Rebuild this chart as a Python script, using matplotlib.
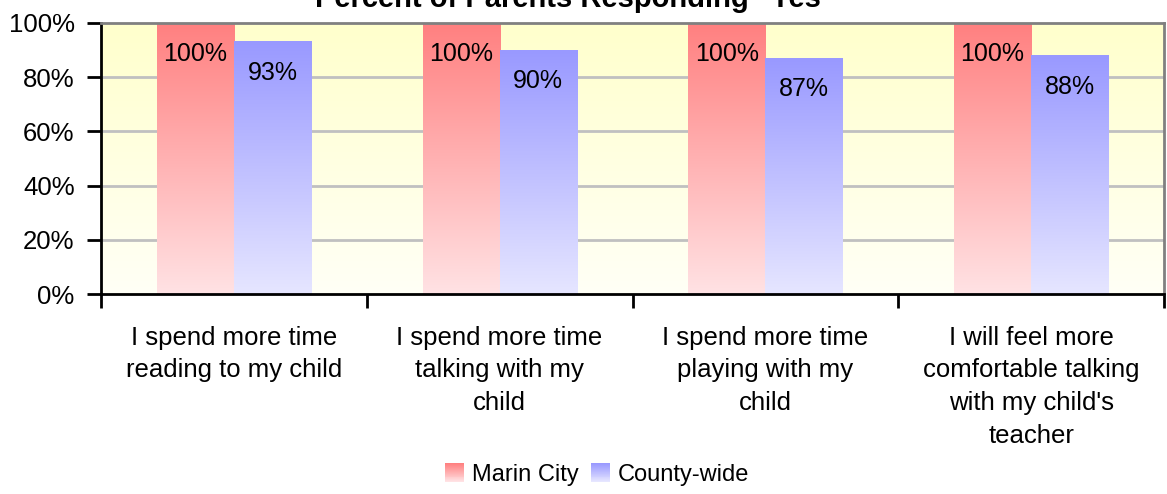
import numpy as np
import matplotlib
matplotlib.use("Agg")
import matplotlib.pyplot as plt
from matplotlib.colors import LinearSegmentedColormap
from matplotlib.legend_handler import HandlerBase
from matplotlib.patches import Rectangle
from matplotlib.ticker import FixedLocator, PercentFormatter

plt.rcParams['font.family'] = ['Liberation Sans', 'DejaVu Sans']

# data
categories = [
    "I spend more time\nreading to my child",
    "I spend more time\ntalking with my\nchild",
    "I spend more time\nplaying with my\nchild",
    "I will feel more\ncomfortable talking\nwith my child's\nteacher",
]
series_names = ["Marin City", "County-wide"]
marin_city = [100, 100, 100, 100]
county_wide = [93, 90, 87, 88]

red_cmap = LinearSegmentedColormap.from_list("red", ["#FFE2E4", "#FF8080"])
blue_cmap = LinearSegmentedColormap.from_list("blue", ["#E6E6FF", "#9999FF"])
bg_cmap = LinearSegmentedColormap.from_list("bg", ["#FFFFF6", "#FFFFCC"])
grad = np.linspace(0, 1, 256).reshape(-1, 1)


class GradientHandler(HandlerBase):
    def __init__(self, cmap):
        super().__init__()
        self.cmap = cmap

    def create_artists(self, legend, orig_handle, xdescent, ydescent,
                       width, height, fontsize, trans):
        n = 20
        side = height * 1.15
        x0 = -xdescent + (width - side) / 2
        y0 = -ydescent - (side - height) / 2
        arts = []
        for i in range(n):
            r = Rectangle((x0, y0 + side * i / n), side, side / n + 0.3,
                          facecolor=self.cmap(i / (n - 1)), edgecolor="none",
                          transform=trans)
            arts.append(r)
        return arts


fig = plt.figure(figsize=(11.67, 4.94), dpi=100)
ax = fig.add_axes([101 / 1167, 1 - 294 / 494, 1063 / 1167, 271 / 494])

x = np.arange(len(categories))
w = 0.29
bars_r = ax.bar(x - w / 2, marin_city, w, color="none", zorder=3)
bars_b = ax.bar(x + w / 2, county_wide, w, color="none", zorder=3)

# background gradient
ax.imshow(grad, cmap=bg_cmap, origin="lower", aspect="auto",
          extent=[-0.5, len(categories) - 0.5, 0, 100], zorder=0)

for bars, cmap in [(bars_r, red_cmap), (bars_b, blue_cmap)]:
    for b in bars:
        h = b.get_height()
        ax.imshow(grad, cmap=cmap, origin="lower", aspect="auto",
                  extent=[b.get_x(), b.get_x() + b.get_width(), 0, h],
                  zorder=2)
        ax.text(b.get_x() + b.get_width() / 2, h - 11.5, f"{h:.0f}%",
                ha="center", va="center", fontsize=18, zorder=4)

ax.set_xlim(-0.5, len(categories) - 0.5)
ax.set_ylim(0, 100)

for yv in [20, 40, 60, 80]:
    ax.axhline(yv, color="#C0C0C0", lw=2, zorder=1)

ax.yaxis.set_major_locator(FixedLocator([0, 20, 40, 60, 80, 100]))
ax.yaxis.set_major_formatter(PercentFormatter(decimals=0))
ax.tick_params(axis="y", direction="out", length=10, width=2,
               labelsize=18.5, pad=9)

ax.set_xticks(np.arange(-0.5, len(categories)), minor=False)
ax.set_xticklabels([])
ax.set_xticks(x, minor=True)
ax.set_xticklabels(categories, minor=True, fontsize=18.5, linespacing=1.45)
ax.tick_params(axis="x", which="major", direction="out", length=10, width=2)
ax.tick_params(axis="x", which="minor", length=0, pad=23)

for s in ["left", "bottom"]:
    ax.spines[s].set_color("black")
    ax.spines[s].set_linewidth(2)
for s in ["top", "right"]:
    ax.spines[s].set_color("#808080")
    ax.spines[s].set_linewidth(2)

fig.text(575 / 1167, 1 - 7 / 494, "Percent of Parents Responding \"Yes\"",
         ha="center", va="baseline", fontsize=21, fontweight="bold")

h1 = Rectangle((0, 0), 1, 1)
h2 = Rectangle((0, 0), 1, 1)
fig.legend([h1, h2], series_names, loc="center",
           bbox_to_anchor=(597 / 1167, 1 - 475 / 494), ncol=2, frameon=False,
           fontsize=17, handlelength=0.8, handletextpad=0.35,
           columnspacing=0.5,
           handler_map={h1: GradientHandler(red_cmap),
                        h2: GradientHandler(blue_cmap)})

fig.savefig("out.png", dpi=100)
